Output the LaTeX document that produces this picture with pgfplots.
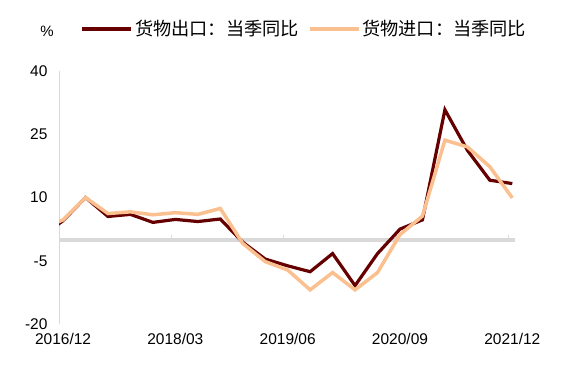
\documentclass[border=0pt]{standalone}
\usepackage{fontspec}
\setmainfont{Liberation Sans}
\newfontfamily\cjk{Noto Sans CJK SC}
\usepackage{pgfplots}
\pgfplotsset{compat=1.18}
\definecolor{exportc}{HTML}{660000}
\definecolor{importc}{HTML}{FAC090}
\definecolor{gridgray}{HTML}{D9D9D9}
\pgfplotstableread{
x y
-0.82 0.6
0.18 4.5
1.18 10.0
2.18 5.5
3.18 6.0
4.18 4.1
5.18 4.8
6.18 4.3
7.18 4.9
8.18 -0.6
9.18 -4.6
10.18 -6.2
11.18 -7.6
12.18 -3.3
13.18 -10.9
14.18 -3.3
15.18 2.5
16.18 4.7
17.18 30.8
18.18 21.2
19.18 14.1
20.18 13.3
}\exportdata
\pgfplotstableread{
x y
-0.82 2.5
0.18 4.7
1.18 10.0
2.18 6.2
3.18 6.6
4.18 5.9
5.18 6.4
6.18 6.0
7.18 7.4
8.18 -0.9
9.18 -5.2
10.18 -7.2
11.18 -11.9
12.18 -7.8
13.18 -11.9
14.18 -7.8
15.18 1.2
16.18 5.6
17.18 23.6
18.18 22.0
19.18 17.3
20.18 9.9
}\importdata
\begin{document}
\begin{tikzpicture}[x=1pt,y=1pt]
\path[use as bounding box] (0,0) rectangle (566,368);
\begin{axis}[
  at={(59pt,44pt)}, anchor=south west, scale only axis,
  width=456pt, height=253pt,
  xmin=0, xmax=20.3, ymin=-20, ymax=40,
  axis x line*=bottom, axis y line*=left,
  x axis line style={draw=none},
  y axis line style={draw=gridgray, line width=1pt, -},
  xtick={0.18,5.18,10.18,15.18,20.18},
  xticklabels={2016/12,2018/03,2019/06,2020/09,2021/12},
  ytick={-20,-5,10,25,40}, yticklabels={-20,-5,10,25,40},
  major tick length=0pt,
  tick label style={font=\fontsize{15.5}{16}\selectfont},
  xticklabel style={yshift=-6pt},
  yticklabel style={xshift=-8pt},
  legend style={at={(axis description cs:0.048,1.166)}, anchor=west,
    draw=none, fill=none, inner sep=0pt, outer sep=0pt,
    font=\cjk\fontsize{18.2}{18.2}\selectfont,
    /tikz/every even column/.append style={column sep=7pt}},
  legend columns=2, legend cell align=left,
  legend image code/.code={\draw[#1] (0pt,0pt) -- (49pt,0pt);},
]
\draw[gridgray, line width=4pt] (axis cs:0,0) -- (axis cs:20.3,0);
\draw[gridgray, line width=1.5pt] (axis cs:5,0) -- (axis cs:5,1.2);
\draw[gridgray, line width=1.5pt] (axis cs:10,0) -- (axis cs:10,1.2);
\draw[gridgray, line width=1.5pt] (axis cs:15,0) -- (axis cs:15,1.2);
\draw[gridgray, line width=1.5pt] (axis cs:20,0) -- (axis cs:20,1.2);
\addplot[exportc, line width=3.2pt, line join=miter] table[x=x,y=y] {\exportdata};
\addlegendentry{货物出口：当季同比}
\addplot[importc, line width=3.5pt, line join=miter] table[x=x,y=y] {\importdata};
\addlegendentry{货物进口：当季同比}
\end{axis}
\node at (47,337) {\fontsize{15}{15}\selectfont\%};
\end{tikzpicture}
\end{document}
